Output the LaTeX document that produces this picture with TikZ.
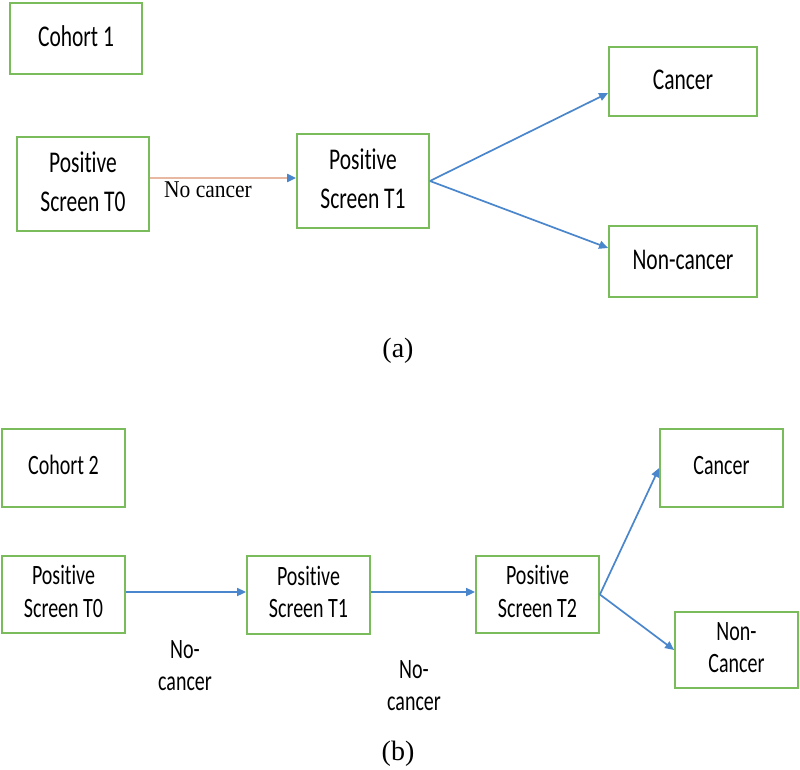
\documentclass[tikz,border=0pt]{standalone}
\usepackage{fontspec}
\setmainfont{Liberation Serif}
\newfontfamily\calfont[Ligatures=NoCommon]{Carlito}
\usetikzlibrary{arrows.meta}
\definecolor{boxgreen}{RGB}{122,188,92}
\definecolor{arrblue}{RGB}{74,134,204}
\definecolor{salmonline}{RGB}{232,184,162}
\newcommand\stk[2]{\scalebox{1}[#1]{\begin{tabular}{@{}c@{}}#2\end{tabular}}}
\tikzset{
  box/.style={draw=boxgreen, line width=1.8pt, inner sep=0pt, rectangle},
  fa/.style={font=\calfont\fontsize{21.5}{28.5}\selectfont},
  fb/.style={font=\calfont\fontsize{20}{23}\selectfont},
  tip/.style={-{Triangle[length=9pt,width=8pt,color=arrblue]}},
  arr/.style={draw=arrblue, line width=1.7pt, tip},
  lbl/.style={inner sep=0pt}
}
\begin{document}
\begin{tikzpicture}[x=1pt,y=-1pt]
\useasboundingbox[fill=white] (0,0) rectangle (800,770);
% (a)
\node[box,fa,minimum width=132pt,minimum height=71pt] (c1) at (76,38.5) {\stk{1.4}{Cohort 1}};
\node[box,fa,minimum width=132pt,minimum height=94pt] (a0) at (83,184) {\stk{1.4}{Positive\\Screen T0}};
\node[box,fa,minimum width=132pt,minimum height=94pt] (a1) at (363,181) {\stk{1.4}{Positive\\Screen T1}};
\node[box,fa,minimum width=148pt,minimum height=69pt] (ac) at (683,81.5) {\stk{1.4}{Cancer}};
\node[box,fa,minimum width=148pt,minimum height=71pt] (an) at (683,261.5) {\stk{1.4}{Non-cancer}};
\draw[salmonline, line width=2pt, tip] ([yshift=3pt]a1.west -| a0.east) -- ([yshift=3pt]a1.west);
\node[lbl,font=\fontsize{21.5}{24}\selectfont] (nc) at (208,190) {\scalebox{1}[1.12]{No cancer}};
\draw[arr] (a1.east) -- ([yshift=-11.5pt]ac.west);
\draw[arr] (a1.east) -- ([yshift=13.5pt]an.west);
\node[lbl,font=\fontsize{28}{30}\selectfont] (la) at (398,351) {(a)};
% (b)
\node[box,fb,minimum width=123pt,minimum height=78pt] (c2) at (63.5,468) {\stk{1.4}{Cohort 2}};
\node[box,fb,minimum width=123pt,minimum height=77pt] (b0) at (63.5,594.5) {\stk{1.4}{Positive\\Screen T0}};
\node[box,fb,minimum width=123pt,minimum height=78pt] (b1) at (308.5,595) {\stk{1.4}{Positive\\Screen T1}};
\node[box,fb,minimum width=123pt,minimum height=77pt] (b2) at (537.5,594.5) {\stk{1.4}{Positive\\Screen T2}};
\node[box,fb,minimum width=123pt,minimum height=78pt] (bc) at (721.5,468) {\stk{1.4}{Cancer}};
\node[box,fb,minimum width=123pt,minimum height=76pt] (bn) at (736.5,650) {\stk{1.4}{Non-\\Cancer}};
\draw[arr] ([yshift=2.5pt]b0.east) -- ([yshift=2.5pt]b0.east -| b1.west);
\draw[arr] ([yshift=3pt]b1.east) -- ([yshift=3pt]b1.east -| b2.west);
\draw[arr] (b2.east) -- (bc.west);
\draw[arr] (b2.east) -- (bn.west);
\node[fb,lbl] (n1) at (185,668) {\stk{1.4}{No-\\cancer}};
\node[fb,lbl] (n2) at (414,688) {\stk{1.4}{No-\\cancer}};
\node[lbl,font=\fontsize{28}{30}\selectfont] (lb) at (398,754) {(b)};
\end{tikzpicture}
\end{document}
